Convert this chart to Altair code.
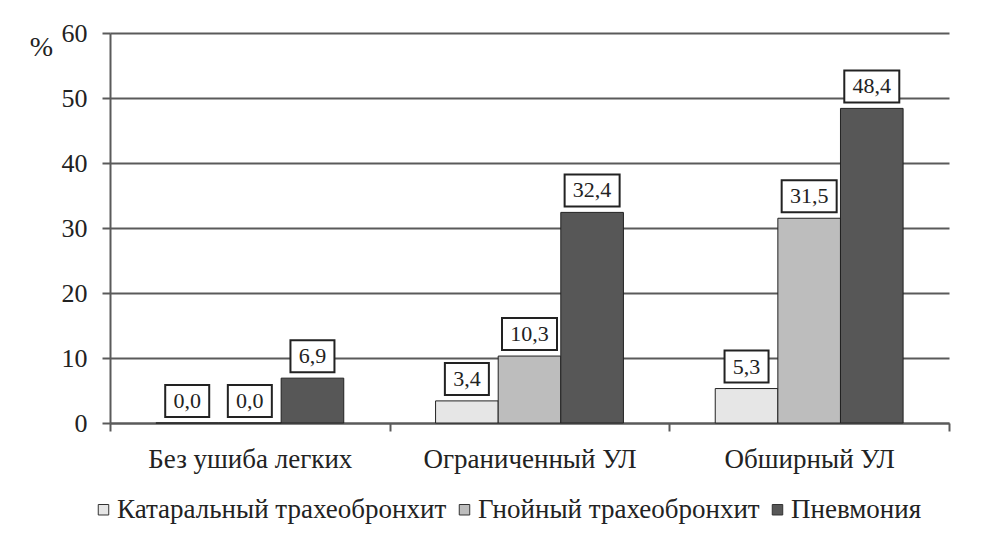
import altair as alt
import pandas as pd

categories = ["Без ушиба легких", "Ограниченный УЛ", "Обширный УЛ"]
series = ["Катаральный трахеобронхит", "Гнойный трахеобронхит", "Пневмония"]
catarrhal = [0.0, 3.4, 5.3]
purulent = [0.0, 10.3, 31.5]
pneumonia = [6.9, 32.4, 48.4]
y_ticks = [0, 10, 20, 30, 40, 50, 60]

rows = []
for s, vals in zip(series, [catarrhal, purulent, pneumonia]):
    for c, v in zip(categories, vals):
        rows.append({"cat": c, "series": s, "value": v})
df = pd.DataFrame(rows)

FONT = "Liberation Serif"
GRID = "#5a5a5a"

x_enc = alt.X(
    "cat:N", sort=categories, title=None,
    scale=alt.Scale(paddingInner=0, paddingOuter=0),
    axis=alt.Axis(labelAngle=0, labelFontSize=27, labelFont=FONT, labelColor="#222",
                  labelLimit=0,
                  tickBand="extent", tickSize=8, tickWidth=2, tickColor=GRID,
                  domain=True, domainColor=GRID, domainWidth=2, labelPadding=15, grid=False),
)
xo_enc = alt.XOffset("series:N", sort=series,
                     scale=alt.Scale(paddingInner=0, paddingOuter=0.733))
y_enc = alt.Y(
    "value:Q", scale=alt.Scale(domain=[0, 60], nice=False),
    axis=alt.Axis(values=y_ticks, grid=True, gridColor=GRID, gridWidth=2,
                  domain=True, domainColor=GRID, domainWidth=2,
                  tickSize=8, tickWidth=2, tickColor=GRID,
                  labelFontSize=26, labelFont=FONT, labelColor="#222", labelPadding=15,
                  title="%", titleAngle=0, titleFont=FONT, titleFontSize=28,
                  titleFontWeight="normal", titleColor="#222",
                  titleX=-69, titleY=14, titleAlign="center", titleBaseline="middle"),
)

base = alt.Chart(df).transform_calculate(
    label="replace(format(datum.value, '.1f'), '.', ',')"
)

bars = base.mark_bar(stroke="#222", strokeWidth=1).encode(
    x=x_enc, xOffset=xo_enc, y=y_enc,
    color=alt.Color("series:N", sort=series,
                    scale=alt.Scale(domain=series, range=["#e6e6e6", "#bdbdbd", "#575757"]),
                    legend=alt.Legend(title=None, orient="none", direction="horizontal",
                                      legendX=-20, legendY=463,
                                      symbolType="square", symbolSize=110,
                                      symbolStrokeColor="#333", symbolStrokeWidth=1,
                                      labelFont=FONT, labelFontSize=27, labelColor="#222",
                                      labelLimit=0,
                                      labelOffset=0, columnPadding=4)),
)

box3 = base.transform_filter("length(datum.label) == 3").mark_point(
    shape="M-1,-0.727L1,-0.727L1,0.727L-1,0.727Z", size=1936, filled=False,
    fill="white", fillOpacity=1, stroke="#222", strokeWidth=2, opacity=1, yOffset=-22,
).encode(x=x_enc, xOffset=xo_enc, y=y_enc)

box4 = base.transform_filter("length(datum.label) == 4").mark_point(
    shape="M-1,-0.582L1,-0.582L1,0.582L-1,0.582Z", size=3025, filled=False,
    fill="white", fillOpacity=1, stroke="#222", strokeWidth=2, opacity=1, yOffset=-22,
).encode(x=x_enc, xOffset=xo_enc, y=y_enc)

labels = base.mark_text(dy=-22, baseline="middle", align="center", font=FONT,
                        fontSize=22, color="#222").encode(
    x=x_enc, xOffset=xo_enc, y=y_enc, text="label:N"
)

chart = alt.layer(bars, box3, box4, labels).properties(
    width=839, height=390,
    autosize=alt.AutoSizeParams(type="none"),
    padding={"left": 102, "top": 25, "right": 35, "bottom": 110},
    background="white",
).configure_view(stroke=None)

chart.save("out.html", embed_options={"renderer": "svg", "actions": False})
